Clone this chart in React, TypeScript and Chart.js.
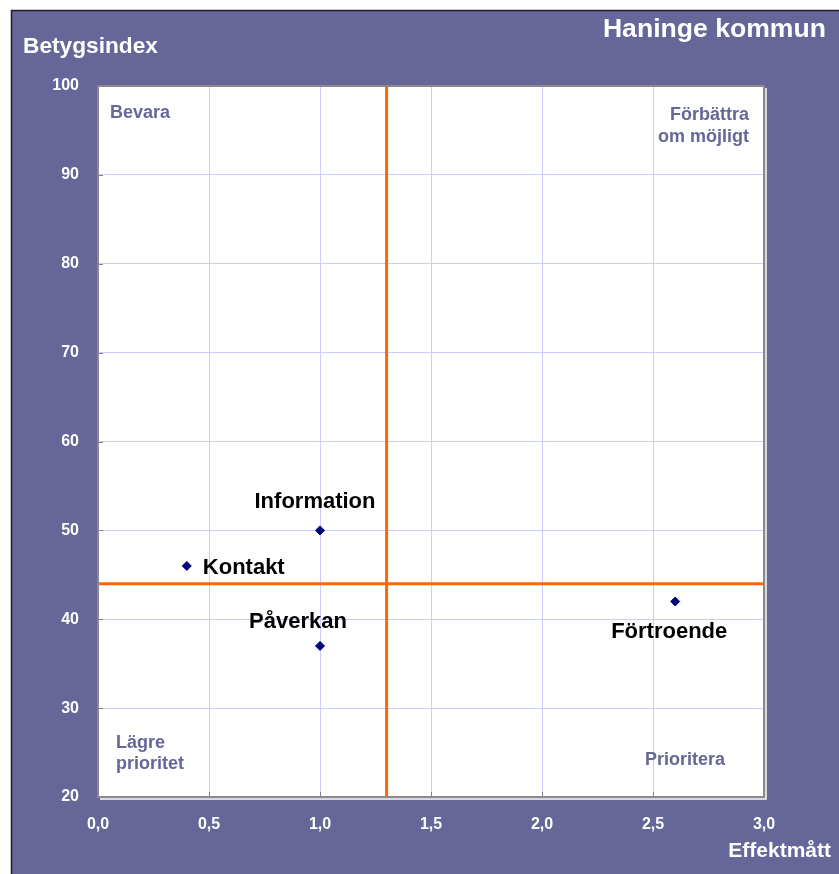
import React, { useEffect, useRef } from 'react';
import { Chart, registerables } from 'chart.js';

Chart.register(...registerables);

// ---- Data ----
const categories = ['Kontakt', 'Information', 'Påverkan', 'Förtroende'];
const effektValues = [0.4, 1.0, 1.0, 2.6];
const betygValues = [46, 50, 37, 42];
const thresholdX = 1.3;
const thresholdY = 44;
const xTicks = [0, 0.5, 1.0, 1.5, 2.0, 2.5, 3.0];
const yTicks = [20, 30, 40, 50, 60, 70, 80, 90, 100];
const chartTitle = 'Haninge kommun';
const yAxisTitle = 'Betygsindex';
const xAxisTitle = 'Effektmått';
const quadTopLeft = ['Bevara'];
const quadTopRight = ['Förbättra', 'om möjligt'];
const quadBottomLeft = ['Lägre', 'prioritet'];
const quadBottomRight = ['Prioritera'];

// ---- Styles ----
const FONT = '"Liberation Sans", Arial, Helvetica, sans-serif';
const PURPLE = '#666699';
const GRID = '#ccccff';
const ORANGE = '#ff6600';
const NAVY = '#000080';

const labelPlacement: Record<string, { dx: number; dy: number; align: CanvasTextAlign }> = {
  Kontakt: { dx: 16, dy: 2, align: 'left' },
  Information: { dx: -5, dy: -28, align: 'center' },
  Påverkan: { dx: -22, dy: -24, align: 'center' },
  Förtroende: { dx: -6, dy: 30, align: 'center' },
};

const framePlugin = {
  id: 'framePlugin',
  beforeDraw(chart: any) {
    const { ctx, chartArea: a, width, height } = chart;
    ctx.save();
    ctx.fillStyle = '#ffffff';
    ctx.fillRect(0, 0, width, height);
    ctx.fillStyle = PURPLE;
    ctx.fillRect(12, 10, width - 12, height - 10);
    ctx.strokeStyle = '#1e1e30';
    ctx.lineWidth = 1.5;
    ctx.beginPath();
    ctx.moveTo(11.5, height);
    ctx.lineTo(11.5, 10.5);
    ctx.lineTo(width, 10.5);
    ctx.stroke();
    ctx.fillStyle = '#ffffff';
    ctx.fillRect(a.left, a.top, a.right - a.left, a.bottom - a.top);
    ctx.restore();
  },
  afterDraw(chart: any) {
    const { ctx, chartArea: a, scales } = chart;
    ctx.save();
    // inner tick marks
    ctx.strokeStyle = '#808080';
    ctx.lineWidth = 1;
    ctx.beginPath();
    yTicks.forEach((v) => {
      const y = Math.round(scales.y.getPixelForValue(v)) + 0.5;
      ctx.moveTo(a.left, y);
      ctx.lineTo(a.left + 5, y);
    });
    xTicks.forEach((v) => {
      const x = Math.round(scales.x.getPixelForValue(v)) + 0.5;
      ctx.moveTo(x, a.bottom);
      ctx.lineTo(x, a.bottom - 5);
    });
    ctx.stroke();
    // plot border
    ctx.strokeStyle = '#8a8a8a';
    ctx.lineWidth = 2;
    ctx.strokeRect(a.left, a.top, a.right - a.left, a.bottom - a.top);
    ctx.strokeStyle = '#ffffff';
    ctx.lineWidth = 1.5;
    ctx.beginPath();
    ctx.moveTo(a.left + 2, a.bottom + 2);
    ctx.lineTo(a.right + 2, a.bottom + 2);
    ctx.lineTo(a.right + 2, a.top + 2);
    ctx.stroke();

    // point labels
    const meta = chart.getDatasetMeta(0);
    ctx.fillStyle = '#000000';
    ctx.font = `bold 22px ${FONT}`;
    ctx.textBaseline = 'middle';
    meta.data.forEach((el: any, i: number) => {
      const name = categories[i];
      const p = labelPlacement[name];
      ctx.textAlign = p.align;
      ctx.fillText(name, el.x + p.dx, el.y + p.dy);
    });

    // quadrant labels
    ctx.fillStyle = PURPLE;
    ctx.font = `bold 18px ${FONT}`;
    ctx.textAlign = 'left';
    quadTopLeft.forEach((t, i) => ctx.fillText(t, a.left + 12, a.top + 27 + i * 22));
    quadBottomLeft.forEach((t, i) => ctx.fillText(t, a.left + 18, a.bottom - 54 + i * 21));
    ctx.fillText(quadBottomRight[0], a.right - 119, a.bottom - 37);
    ctx.textAlign = 'right';
    quadTopRight.forEach((t, i) => ctx.fillText(t, a.right - 15, a.top + 29 + i * 22));

    // titles
    ctx.fillStyle = '#ffffff';
    ctx.font = `bold 22.7px ${FONT}`;
    ctx.textAlign = 'left';
    ctx.fillText(yAxisTitle, 23, 47);
    ctx.font = `bold 26.6px ${FONT}`;
    ctx.textAlign = 'right';
    ctx.fillText(chartTitle, 826, 30);
    ctx.font = `bold 21px ${FONT}`;
    ctx.fillText(xAxisTitle, 831, 851);
    ctx.restore();
  },
};

export default function App() {
  const canvasRef = useRef<HTMLCanvasElement>(null);

  useEffect(() => {
    if (!canvasRef.current) return;
    const points = effektValues.map((x, i) => ({ x, y: betygValues[i] }));
    const chart = new Chart(canvasRef.current, {
      type: 'scatter',
      data: {
        datasets: [
          {
            label: 'Områden',
            data: points,
            pointStyle: 'rectRot',
            pointRadius: 4.5,
            pointBorderWidth: 1,
            backgroundColor: NAVY,
            borderColor: NAVY,
          },
          {
            label: 'Gräns x',
            data: [
              { x: thresholdX, y: yTicks[0] },
              { x: thresholdX, y: yTicks[yTicks.length - 1] },
            ],
            showLine: true,
            pointRadius: 0,
            borderColor: ORANGE,
            borderWidth: 3,
          },
          {
            label: 'Gräns y',
            data: [
              { x: xTicks[0], y: thresholdY },
              { x: xTicks[xTicks.length - 1], y: thresholdY },
            ],
            showLine: true,
            pointRadius: 0,
            borderColor: ORANGE,
            borderWidth: 3,
          },
        ],
      },
      options: {
        responsive: false,
        animation: false,
        events: [],
        layout: { padding: { top: 86, right: 75, left: 0, bottom: 0 } },
        plugins: {
          legend: { display: false },
          tooltip: { enabled: false },
          title: { display: false },
        },
        scales: {
          x: {
            type: 'linear',
            min: xTicks[0],
            max: xTicks[xTicks.length - 1],
            afterBuildTicks: (s: any) => {
              s.ticks = xTicks.map((v) => ({ value: v }));
            },
            afterFit: (s: any) => {
              s.height = 77;
            },
            grid: { color: GRID, lineWidth: 1, drawTicks: false },
            border: { display: false },
            ticks: {
              color: '#ffffff',
              padding: 18,
              maxRotation: 0,
              font: { family: FONT, size: 16, weight: 'bold' },
              callback: (v: any) => Number(v).toFixed(1).replace('.', ','),
            },
          },
          y: {
            type: 'linear',
            min: yTicks[0],
            max: yTicks[yTicks.length - 1],
            afterBuildTicks: (s: any) => {
              s.ticks = yTicks.map((v) => ({ value: v }));
            },
            afterFit: (s: any) => {
              s.width = 98;
            },
            grid: { color: GRID, lineWidth: 1, drawTicks: false },
            border: { display: false },
            ticks: {
              color: '#ffffff',
              padding: 19,
              font: { family: FONT, size: 16, weight: 'bold' },
              callback: (v: any) => String(v),
            },
          },
        },
      },
      plugins: [framePlugin],
    });
    return () => chart.destroy();
  }, []);

  return (
    <div style={{ position: 'absolute', left: 0, top: 0, width: 839, height: 874 }}>
      <canvas ref={canvasRef} width={839} height={874} style={{ display: 'block' }} />
    </div>
  );
}
